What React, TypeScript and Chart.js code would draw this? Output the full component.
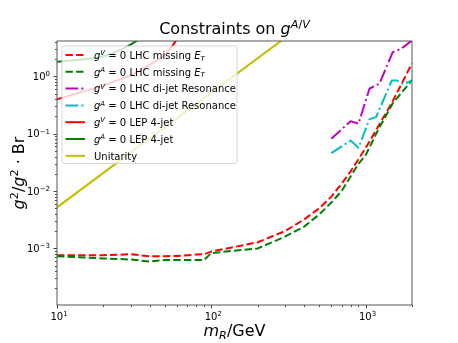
import React, { useEffect, useRef } from "react";
import { Chart, registerables } from "chart.js";

Chart.register(...registerables);

// ---------------- data ----------------
const lhcMass = [10, 20, 30, 40, 50, 60, 70, 80, 90, 100, 200, 300, 400, 500, 600, 700, 800, 900, 1000, 1200, 1500, 2000];
const lhcVectorZero = [7.6e-4, 7.6e-4, 7.9e-4, 7.3e-4, 7.3e-4, 7.4e-4, 7.6e-4, 7.8e-4, 7.9e-4, 8.8e-4, 1.28e-3, 2.0e-3, 3.2e-3, 5.0e-3, 8.0e-3, 0.0135, 0.022, 0.036, 0.056, 0.13, 0.37, 1.69];
const lhcAxialZero = [7.3e-4, 6.7e-4, 6.4e-4, 5.9e-4, 6.3e-4, 6.3e-4, 6.3e-4, 6.3e-4, 6.3e-4, 8.3e-4, 1.0e-3, 1.6e-3, 2.4e-3, 3.9e-3, 6.3e-3, 0.010, 0.018, 0.030, 0.042, 0.114, 0.34, 0.86];

const dijetMassV = [600, 800, 900, 1060, 1230, 1500, 1700, 2000];
const dijetVectorZero = [0.082, 0.166, 0.15, 0.61, 0.75, 2.65, 3.04, 4.25];
const dijetMassA = [600, 800, 900, 1060, 1170, 1480, 1600, 1750, 2000];
const dijetAxialZero = [0.046, 0.076, 0.057, 0.18, 0.195, 0.85, 0.85, 0.73, 0.85];

const lepMassV = [10, 15, 20, 25, 30, 35, 40, 45, 50, 55, 60];
const lepVectorZero = [0.4, 0.55, 0.7, 0.87, 1.05, 1.3, 1.6, 1.95, 2.4, 3.2, 4.5];
const lepMassA = [10, 15, 20, 25, 30, 35];
const lepAxialZero = [1.8, 2.0, 2.25, 2.8, 3.6, 4.6];

const unitarityMass = [10, 2000];
const unitarityValue = [5.2e-3, 208];

const xMin = 10, xMax = 2000, yMin = 1.03e-4, yMax = 4.15;
const xMajorTicks = [10, 100, 1000];
const xTickExponents = ["1", "2", "3"];
const yMajorTicks = [1e-3, 1e-2, 1e-1, 1];
const yTickExponents = ["\u22123", "\u22122", "\u22121", "0"];

type Seg = { t: string; it?: boolean; sup?: boolean; sub?: boolean };

const legendLabels: Seg[][] = [
  [{ t: "g", it: true }, { t: "V", it: true, sup: true }, { t: " = 0 LHC missing " }, { t: "E", it: true }, { t: "T", it: true, sub: true }],
  [{ t: "g", it: true }, { t: "A", it: true, sup: true }, { t: " = 0 LHC missing " }, { t: "E", it: true }, { t: "T", it: true, sub: true }],
  [{ t: "g", it: true }, { t: "V", it: true, sup: true }, { t: " = 0 LHC di-jet Resonance" }],
  [{ t: "g", it: true }, { t: "A", it: true, sup: true }, { t: " = 0 LHC di-jet Resonance" }],
  [{ t: "g", it: true }, { t: "V", it: true, sup: true }, { t: " = 0 LEP 4-jet" }],
  [{ t: "g", it: true }, { t: "A", it: true, sup: true }, { t: " = 0 LEP 4-jet" }],
  [{ t: "Unitarity" }],
];

const titleSegs: Seg[] = [{ t: "Constraints on " }, { t: "g", it: true }, { t: "A", it: true, sup: true }, { t: "/", sup: true }, { t: "V", it: true, sup: true }];
const xLabelSegs: Seg[] = [{ t: "m", it: true }, { t: "R", it: true, sub: true }, { t: "/GeV" }];
const yLabelSegs: Seg[] = [{ t: "g", it: true }, { t: "2", sup: true }, { t: "/" }, { t: "g", it: true }, { t: "2", sup: true }, { t: " \u00B7 " }, { t: "Br" }];

// ---------------- rich text helpers ----------------
const FONT = '"DejaVu Sans", sans-serif';
function segFont(s: Seg, size: number) {
  const sz = s.sup || s.sub ? size * 0.7 : size;
  return `${s.it ? "italic " : ""}${sz}px ${FONT}`;
}
function measureRich(ctx: CanvasRenderingContext2D, segs: Seg[], size: number) {
  let w = 0;
  for (const s of segs) {
    ctx.font = segFont(s, size);
    w += ctx.measureText(s.t).width;
  }
  return w;
}
function drawRich(ctx: CanvasRenderingContext2D, segs: Seg[], x: number, y: number, size: number, align: "left" | "center" | "right") {
  const w = measureRich(ctx, segs, size);
  let cx = align === "left" ? x : align === "center" ? x - w / 2 : x - w;
  ctx.textAlign = "left";
  ctx.textBaseline = "alphabetic";
  for (const s of segs) {
    ctx.font = segFont(s, size);
    const dy = s.sup ? -size * 0.36 : s.sub ? size * 0.18 : 0;
    ctx.fillText(s.t, cx, y + dy);
    cx += ctx.measureText(s.t).width;
  }
}

const DASH = [7.4, 3.2];
const DASHDOT = [12.7, 3.2, 2, 3.2];

const decorPlugin = {
  id: "decor",
  afterDraw(chart: any) {
    const { ctx, chartArea: a, scales } = chart;
    const xs = scales.x, ys = scales.y;
    ctx.save();
    ctx.fillStyle = "#000";
    ctx.strokeStyle = "#333";
    ctx.lineWidth = 0.9;
    // x ticks
    for (let d = 1; d <= 10000; d *= 10) {
      for (let k = 1; k < 10; k++) {
        const v = d * k;
        if (v < xMin * 0.999 || v > xMax * 1.001) continue;
        const px = Math.round(xs.getPixelForValue(v)) + 0.5;
        const len = k === 1 ? 3.5 : 2;
        ctx.beginPath();
        ctx.moveTo(px, a.bottom);
        ctx.lineTo(px, a.bottom + len);
        ctx.stroke();
      }
    }
    for (let d = 1e-5; d <= 10; d *= 10) {
      for (let k = 1; k < 10; k++) {
        const v = d * k;
        if (v < yMin || v > yMax) continue;
        const py = Math.round(ys.getPixelForValue(v)) + 0.5;
        const len = k === 1 ? 3.5 : 2;
        ctx.beginPath();
        ctx.moveTo(a.left, py);
        ctx.lineTo(a.left - len, py);
        ctx.stroke();
      }
    }
    // tick labels
    xMajorTicks.forEach((v, i) => {
      const px = xs.getPixelForValue(v);
      drawRich(ctx, [{ t: "10" }, { t: xTickExponents[i], sup: true }], px + 2, a.bottom + 15, 10, "center");
    });
    yMajorTicks.forEach((v, i) => {
      const py = ys.getPixelForValue(v);
      drawRich(ctx, [{ t: "10" }, { t: yTickExponents[i], sup: true }], a.left - 7, py + 3.6, 10, "right");
    });
    // frame
    ctx.strokeStyle = "#555";
    ctx.lineWidth = 1;
    ctx.strokeRect(a.left, a.top, a.right - a.left, a.bottom - a.top);
    // axis titles
    const cxm = (a.left + a.right) / 2;
    const cym = (a.top + a.bottom) / 2;
    drawRich(ctx, xLabelSegs, cxm, 336, 16, "center");
    ctx.save();
    ctx.translate(23.5, cym);
    ctx.rotate(-Math.PI / 2);
    drawRich(ctx, yLabelSegs, 0, 0, 16, "center");
    ctx.restore();
    // title
    drawRich(ctx, titleSegs, cxm, 34, 16, "center");
    // legend
    const lx = a.left + 5, ly = a.top + 5, lw = 175, lh = 117.5;
    ctx.beginPath();
    const r = 2.5;
    ctx.moveTo(lx + r, ly);
    ctx.arcTo(lx + lw, ly, lx + lw, ly + lh, r);
    ctx.arcTo(lx + lw, ly + lh, lx, ly + lh, r);
    ctx.arcTo(lx, ly + lh, lx, ly, r);
    ctx.arcTo(lx, ly, lx + lw, ly, r);
    ctx.closePath();
    ctx.fillStyle = "rgba(255,255,255,0.8)";
    ctx.fill();
    ctx.strokeStyle = "rgba(204,204,204,0.8)";
    ctx.lineWidth = 1;
    ctx.stroke();
    chart.data.datasets.forEach((ds: any, i: number) => {
      const rowY = 55 + 16.8 * i;
      ctx.save();
      ctx.strokeStyle = ds.borderColor;
      ctx.lineWidth = ds.borderWidth;
      ctx.setLineDash(ds.borderDash || []);
      ctx.lineCap = "butt";
      ctx.beginPath();
      ctx.moveTo(lx + 3.5, rowY);
      ctx.lineTo(lx + 23, rowY);
      ctx.stroke();
      ctx.restore();
      ctx.fillStyle = "#000";
      drawRich(ctx, legendLabels[i], lx + 32, rowY + 3.8, 10, "left");
    });
    ctx.restore();
  },
};

function pts(xsArr: number[], ysArr: number[]) {
  return xsArr.map((x, i) => ({ x, y: ysArr[i] }));
}

export default function App() {
  const ref = useRef<HTMLCanvasElement>(null);
  useEffect(() => {
    if (!ref.current) return;
    const common = { pointRadius: 0, borderWidth: 2, tension: 0, clip: 0, fill: false, borderCapStyle: "butt", borderJoinStyle: "round" };
    const datasets: any[] = [
      { ...common, label: "gV = 0 LHC missing ET", data: pts(lhcMass, lhcVectorZero), borderColor: "#ff0000", borderDash: DASH },
      { ...common, label: "gA = 0 LHC missing ET", data: pts(lhcMass, lhcAxialZero), borderColor: "#008000", borderDash: DASH },
      { ...common, label: "gV = 0 LHC di-jet Resonance", data: pts(dijetMassV, dijetVectorZero), borderColor: "#bf00bf", borderDash: DASHDOT },
      { ...common, label: "gA = 0 LHC di-jet Resonance", data: pts(dijetMassA, dijetAxialZero), borderColor: "#00bfbf", borderDash: DASHDOT },
      { ...common, label: "gV = 0 LEP 4-jet", data: pts(lepMassV, lepVectorZero), borderColor: "#ff0000", cubicInterpolationMode: "monotone" },
      { ...common, label: "gA = 0 LEP 4-jet", data: pts(lepMassA, lepAxialZero), borderColor: "#008000", cubicInterpolationMode: "monotone" },
      { ...common, label: "Unitarity", data: pts(unitarityMass, unitarityValue), borderColor: "#bfbf00" },
    ];
    datasets.forEach((d, i) => (d.order = datasets.length - i));
    const chart = new Chart(ref.current, {
      type: "line",
      data: { datasets },
      options: {
        animation: false,
        responsive: false,
        devicePixelRatio: 1,
        events: [],
        layout: { padding: { left: 57, right: 46, top: 41, bottom: 38 } },
        scales: {
          x: { type: "logarithmic", min: xMin, max: xMax, display: false },
          y: { type: "logarithmic", min: yMin, max: yMax, display: false },
        },
        plugins: { legend: { display: false }, tooltip: { enabled: false }, title: { display: false } },
      },
      plugins: [decorPlugin],
    } as any);
    return () => chart.destroy();
  }, []);
  return (
    <div style={{ position: "fixed", left: 0, top: 0, width: 458, height: 343, background: "#fff" }}>
      <canvas ref={ref} width={458} height={343} style={{ display: "block", width: 458, height: 343 }} />
    </div>
  );
}
